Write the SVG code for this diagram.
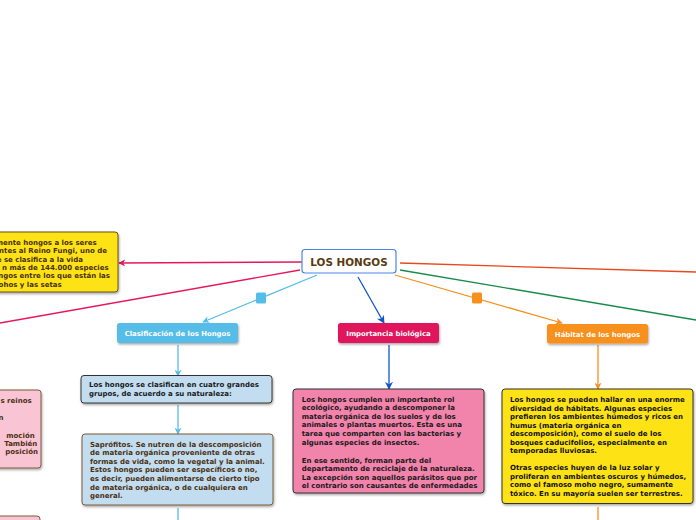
<svg xmlns="http://www.w3.org/2000/svg" width="696" height="520" viewBox="0 0 696 520">
<style>
.t{font-family:"DejaVu Sans",Verdana,sans-serif;font-weight:bold;font-size:7px}
.lbl{font-family:"DejaVu Sans",Verdana,sans-serif;font-weight:bold;font-size:6.9px;fill:#fff;text-anchor:middle}
.ln{fill:none;stroke-width:1.3}
</style>
<defs>
<filter id="sh" x="-10%" y="-10%" width="130%" height="140%"><feDropShadow dx="0.8" dy="1.5" stdDeviation="0.8" flood-color="#000" flood-opacity="0.35"/></filter>
<marker id="aPink" viewBox="0 0 10 10" refX="9" refY="5" markerWidth="7" markerHeight="7" markerUnits="userSpaceOnUse" orient="auto"><path d="M0,0L10,5L0,10L3,5z" fill="#e8175d"/></marker>
<marker id="aLb" viewBox="0 0 10 10" refX="9" refY="5" markerWidth="7" markerHeight="7" markerUnits="userSpaceOnUse" orient="auto"><path d="M0,0L10,5L0,10L3,5z" fill="#56bde8"/></marker>
<marker id="aDb" viewBox="0 0 10 10" refX="9" refY="5" markerWidth="8" markerHeight="8" markerUnits="userSpaceOnUse" orient="auto"><path d="M0,0L10,5L0,10L3,5z" fill="#1155cc"/></marker>
<marker id="aOr" viewBox="0 0 10 10" refX="9" refY="5" markerWidth="7" markerHeight="7" markerUnits="userSpaceOnUse" orient="auto"><path d="M0,0L10,5L0,10L3,5z" fill="#f7901e"/></marker>
</defs>
<rect width="696" height="520" fill="#fff"/>
<g id="connectors">
<line class="ln" x1="302" y1="262" x2="119" y2="263" stroke="#e8175d" marker-end="url(#aPink)"/>
<line class="ln" x1="300" y1="270" x2="0" y2="323" stroke="#e8175d"/>
<line class="ln" x1="317" y1="275" x2="203" y2="322" stroke="#56bde8" marker-end="url(#aLb)"/>
<rect x="256" y="292.5" width="10" height="11" rx="1.5" fill="#56bde8"/>
<line class="ln" x1="358" y1="277" x2="384" y2="323" stroke="#1155cc" marker-end="url(#aDb)"/>
<line class="ln" x1="395" y1="275" x2="562" y2="323" stroke="#f7901e" marker-end="url(#aOr)"/>
<rect x="472" y="292.5" width="10" height="11" rx="1.5" fill="#f7901e"/>
<line class="ln" x1="400" y1="263" x2="696" y2="272" stroke="#e8481c"/>
<line class="ln" x1="400" y1="270" x2="696" y2="320" stroke="#1a8a4a"/>
<line class="ln" x1="178" y1="345" x2="178" y2="376" stroke="#56bde8" marker-end="url(#aLb)"/>
<line class="ln" x1="178" y1="405" x2="178" y2="434" stroke="#56bde8" marker-end="url(#aLb)"/>
<line class="ln" x1="178" y1="508" x2="178" y2="520" stroke="#56bde8"/>
<line class="ln" x1="389" y1="345" x2="389" y2="389" stroke="#1155cc" marker-end="url(#aDb)"/>
<line class="ln" x1="598" y1="345" x2="598" y2="389" stroke="#f7901e" marker-end="url(#aOr)"/>
<line class="ln" x1="598" y1="507" x2="598" y2="520" stroke="#f7901e"/>
</g>
<g id="root">
<rect x="302" y="249.5" width="94" height="23.5" rx="3" fill="#fff" stroke="#4a86e8" stroke-width="1.2"/>
<text x="349" y="266" font-family="DejaVu Sans,Verdana,sans-serif" font-weight="bold" font-size="10.4px" fill="#5a3a10" text-anchor="middle">LOS HONGOS</text>
</g>
<g id="def">
<rect x="-6" y="232" width="124" height="60" rx="3" fill="#fde213" stroke="#6b4c1a" stroke-width="1" filter="url(#sh)"/>
<g class="t" fill="#4a3010" text-anchor="end">
<text x="96.7" y="244.8">mente hongos a los seres</text>
<text x="107" y="253.1">ntes al Reino Fungi, uno de</text>
<text x="83" y="261.5">e se clasifica a la vida</text>
<text x="108.7" y="269.8">n más de 144.000 especies</text>
<text x="110" y="278.2">ngos entre los que están las</text>
<text x="61.7" y="286.5">ohos y las setas</text>
</g>
</g>
<g id="clasificacion">
<rect x="117" y="323" width="121" height="20" rx="2.5" fill="#56bde8" filter="url(#sh)"/>
<text class="lbl" x="177.5" y="335.5">Clasificación de los Hongos</text>
</g>
<g id="importancia">
<rect x="338" y="323" width="101" height="20" rx="2.5" fill="#e0195c" filter="url(#sh)"/>
<text class="lbl" x="388.5" y="335.5">Importancia biológica</text>
</g>
<g id="habitat">
<rect x="547" y="324" width="101" height="19.5" rx="2.5" fill="#f7901e" filter="url(#sh)"/>
<text class="lbl" x="597.5" y="336.5">Hábitat de los hongos</text>
</g>
<g id="grupos">
<rect x="81" y="375.5" width="191" height="27.5" rx="3" fill="#c2ddf0" stroke="#333" stroke-width="1" filter="url(#sh)"/>
<g class="t" fill="#1a1a1a">
<text x="89" y="387.3">Los hongos se clasifican en cuatro grandes</text>
<text x="89" y="395.6">grupos, de acuerdo a su naturaleza:</text>
</g>
</g>
<g id="saprofitos">
<rect x="82" y="434" width="191" height="71" rx="3" fill="#c2ddf0" stroke="#7b5a3a" stroke-width="1" filter="url(#sh)"/>
<g class="t" fill="#4a3010">
<text x="90" y="446.5">Saprófitos. Se nutren de la descomposición</text>
<text x="90" y="455.2">de materia orgánica proveniente de otras</text>
<text x="90" y="463.8">formas de vida, como la vegetal y la animal.</text>
<text x="90" y="472.4">Estos hongos pueden ser específicos o no,</text>
<text x="90" y="481">es decir, pueden alimentarse de cierto tipo</text>
<text x="90" y="489.6">de materia orgánica, o de cualquiera en</text>
<text x="90" y="498.2">general.</text>
</g>
</g>
<g id="importancia-texto">
<rect x="293" y="389" width="191" height="104" rx="3" fill="#f283ab" stroke="#333" stroke-width="1" filter="url(#sh)"/>
<g class="t" fill="#1a1a1a">
<text x="301.7" y="401.5">Los hongos cumplen un importante rol</text>
<text x="301.7" y="410.1">ecológico, ayudando a descomponer la</text>
<text x="301.7" y="418.7">materia orgánica de los suelos y de los</text>
<text x="301.7" y="427.3">animales o plantas muertos. Esta es una</text>
<text x="301.7" y="435.9">tarea que comparten con las bacterias y</text>
<text x="301.7" y="444.5">algunas especies de insectos.</text>
<text x="301.7" y="462.5">En ese sentido, forman parte del</text>
<text x="301.7" y="471.1">departamento de reciclaje de la naturaleza.</text>
<text x="301.7" y="479.5">La excepción son aquellos parásitos que por</text>
<text x="301.7" y="487.9">el contrario son causantes de enfermedades</text>
</g>
</g>
<g id="habitat-texto">
<rect x="502" y="389" width="191" height="114.5" rx="3" fill="#fde213" stroke="#333" stroke-width="1" filter="url(#sh)"/>
<g class="t" fill="#111">
<text x="510" y="402.2">Los hongos se pueden hallar en una enorme</text>
<text x="510" y="410.7">diversidad de hábitats. Algunas especies</text>
<text x="510" y="419.2">prefieren los ambientes húmedos y ricos en</text>
<text x="510" y="427.8">humus (materia orgánica en</text>
<text x="510" y="436.3">descomposición), como el suelo de los</text>
<text x="510" y="444.8">bosques caducifolios, especialmente en</text>
<text x="510" y="453.3">temporadas lluviosas.</text>
<text x="510" y="470.4">Otras especies huyen de la luz solar y</text>
<text x="510" y="478.9">proliferan en ambientes oscuros y húmedos,</text>
<text x="510" y="487.4">como el famoso moho negro, sumamente</text>
<text x="510" y="495.9">tóxico. En su mayoría suelen ser terrestres.</text>
</g>
</g>
<g id="reinos">
<rect x="-6" y="390" width="47" height="78" rx="3" fill="#f9c5d5" stroke="#7b5a3a" stroke-width="1" filter="url(#sh)"/>
<g class="t" fill="#4a3010" text-anchor="end">
<text x="31.7" y="403">s reinos</text>
<text x="3.5" y="420">n</text>
<text x="34.7" y="437.5">moción</text>
<text x="37.3" y="445.5">También</text>
<text x="38" y="454">posición</text>
</g>
</g>
<g id="otro">
<rect x="-6" y="516" width="46" height="20" rx="3" fill="#f9c5d5" stroke="#7b5a3a" stroke-width="1"/>
</g>
</svg>
